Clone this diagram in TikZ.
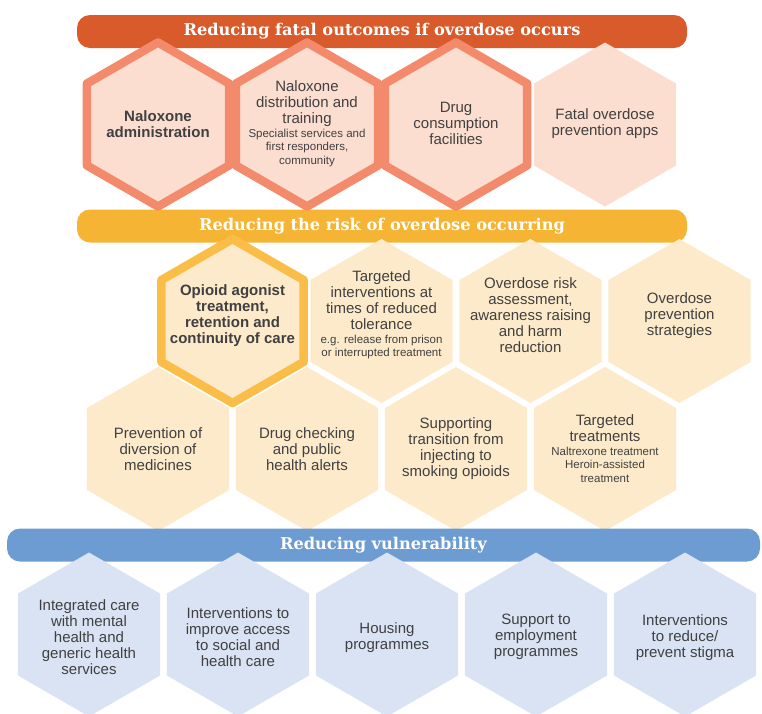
\documentclass[tikz,border=0pt]{standalone}
\usepackage{fontspec}
\setmainfont{Liberation Sans}
\newfontfamily\bandfont{DejaVu Serif}
\usetikzlibrary{shapes.geometric}

\definecolor{fatalband}{HTML}{D95A2B}
\definecolor{fatalline}{HTML}{F28A6B}
\definecolor{fatalfill}{HTML}{FCDED1}
\definecolor{riskband}{HTML}{F6B434}
\definecolor{riskline}{HTML}{FABE48}
\definecolor{riskfill}{HTML}{FDEACA}
\definecolor{vulnband}{HTML}{6C9CD2}
\definecolor{vulnfill}{HTML}{DAE3F3}
\definecolor{cellink}{HTML}{404040}

\newcommand\hexbody[2][0pt]{\smash{\makebox[0pt]{\raisebox{#1}{\parbox{150pt}{\centering #2}}}}}
\newcommand\subnote{\par\fontsize{11.5}{13.5}\selectfont}

\begin{document}
\begin{tikzpicture}[x=1pt, y=-1pt,
  band/.style={rounded corners=13pt, minimum width=610pt, minimum height=33pt,
    inner sep=0pt, text=white, font=\bandfont\bfseries\fontsize{16.2}{19}\selectfont},
  cell/.style={regular polygon, regular polygon sides=6, shape border rotate=30,
    minimum size=164pt, inner sep=0pt, outer sep=0pt, text=cellink,
    font=\fontsize{15}{16}\selectfont},
  rim/.style={draw=#1, line width=8.5pt, line join=round}]
  \useasboundingbox (0,0) rectangle (762,713);

  % bands
  \node[band, fill=fatalband] (b1) at (382,31.5) {Reducing fatal outcomes if overdose occurs};
  \node[band, fill=riskband] (b2) at (382,226) {Reducing the risk of overdose occurring};

  % reducing fatal outcomes
  \node[cell, fill=fatalfill, rim=fatalline] (f1) at (158,124.5) {\hexbody[-2.75pt]{\textbf{Naloxone\\administration}}};
  \node[cell, fill=fatalfill, rim=fatalline] (f2) at (307,124.5) {\hexbody[-2.75pt]{Naloxone\\distribution and\\training\subnote Specialist services and\\first responders,\\community}};
  \node[cell, fill=fatalfill, rim=fatalline] (f3) at (456,124.5) {\hexbody[-2.75pt]{Drug\\consumption\\facilities}};
  \node[cell, fill=fatalfill] (f4) at (605,124.5) {\hexbody[-2.75pt]{Fatal overdose\\prevention apps}};

  % reducing the risk, lower row first
  \node[cell, fill=riskfill] (r5) at (158,449) {\hexbody[-3.25pt]{Prevention of\\diversion of\\medicines}};
  \node[cell, fill=riskfill] (r6) at (307,449) {\hexbody[-3.25pt]{Drug checking\\and public\\health alerts}};
  \node[cell, fill=riskfill] (r7) at (456,449) {\hexbody[-3.25pt]{Supporting\\transition from\\injecting to\\smoking opioids}};
  \node[cell, fill=riskfill] (r8) at (605,449) {\hexbody[-3.25pt]{Targeted\\treatments\subnote Naltrexone treatment\\Heroin-assisted\\treatment}};
  \node[cell, fill=riskfill] (r2) at (381.5,321) {\hexbody[2.25pt]{Targeted\\interventions at\\times of reduced\\tolerance\subnote e.g. release from prison\\or interrupted treatment}};
  \node[cell, fill=riskfill] (r3) at (530.5,321) {\hexbody[2.25pt]{Overdose risk\\assessment,\\awareness raising\\and harm\\reduction}};
  \node[cell, fill=riskfill] (r4) at (679.5,321) {\hexbody[2.25pt]{Overdose\\prevention\\strategies}};
  \node[cell, fill=riskfill, rim=riskline] (r1) at (232.5,321) {\hexbody[2.25pt]{\textbf{Opioid agonist\\treatment,\\retention and\\continuity of care}}};

  % reducing vulnerability
  \node[band, fill=vulnband, minimum width=753pt] (b3) at (383.5,545) {Reducing vulnerability};
  \node[cell, fill=vulnfill] (v1) at (89,634.5) {\hexbody[-6.25pt]{Integrated care\\with mental\\health and\\generic health\\services}};
  \node[cell, fill=vulnfill] (v2) at (238,634.5) {\hexbody[-6.25pt]{Interventions to\\improve access\\to social and\\health care}};
  \node[cell, fill=vulnfill] (v3) at (387,634.5) {\hexbody[-6.25pt]{Housing\\programmes}};
  \node[cell, fill=vulnfill] (v4) at (536,634.5) {\hexbody[-6.25pt]{Support to\\employment\\programmes}};
  \node[cell, fill=vulnfill] (v5) at (685,634.5) {\hexbody[-6.25pt]{Interventions\\to reduce/\\prevent stigma}};
\end{tikzpicture}
\end{document}
